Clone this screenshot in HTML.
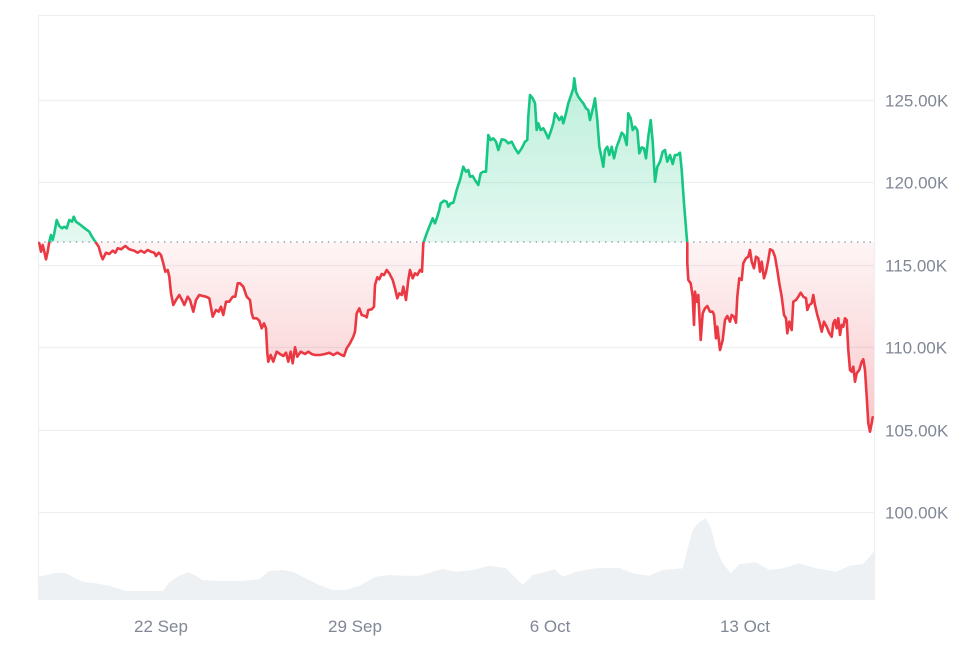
<!DOCTYPE html>
<html><head><meta charset="utf-8"><style>
html,body{margin:0;padding:0;background:#fff;}
svg{display:block;}
text{font-family:"Liberation Sans",Arial,sans-serif;font-size:17px;fill:#808795;}
</style></head><body>
<svg width="980" height="653" viewBox="0 0 980 653" xmlns="http://www.w3.org/2000/svg" xmlns:xlink="http://www.w3.org/1999/xlink">
<defs>
<linearGradient id="gg" gradientUnits="userSpaceOnUse" x1="0" y1="78" x2="0" y2="242">
<stop offset="0" stop-color="#16c784" stop-opacity="0.28"/>
<stop offset="1" stop-color="#16c784" stop-opacity="0.12"/>
</linearGradient>
<linearGradient id="rg" gradientUnits="userSpaceOnUse" x1="0" y1="242" x2="0" y2="432">
<stop offset="0" stop-color="#ea3943" stop-opacity="0.05"/>
<stop offset="1" stop-color="#ea3943" stop-opacity="0.28"/>
</linearGradient>
<clipPath id="cu"><rect x="0" y="0" width="980" height="242"/></clipPath>
<clipPath id="cd"><rect x="0" y="242" width="980" height="411"/></clipPath>
<path id="ar" d="M39.3,242 L39.3,243.3 L41,251.7 L42.7,245 L44.3,251.7 L46,259.3 L47.7,251.7 L49.3,241.7 L51,235 L52.7,240 L54.3,233.3 L56.7,220 L59.3,226 L62,228.3 L64.3,226.7 L66.7,228.3 L69.3,220 L72,221.7 L73.7,216.7 L76,221.7 L79.3,224 L82.7,226.7 L86,229.3 L89.3,231.7 L92,236.7 L95.3,241.7 L98.7,246.7 L101,255 L102.7,259.3 L106,252.7 L109.3,254 L112.7,250.7 L115.3,252.7 L117.7,248.3 L121,249.3 L125.3,246 L129.3,249.3 L134.3,250.7 L137.7,252.7 L141,250.7 L144.3,252.7 L147.7,250 L151,251.7 L154.3,252.7 L156,256 L158.7,252.7 L161,255 L163.3,263.3 L165.3,271.7 L167.7,270 L169.3,276.7 L171,293.3 L173.3,305 L176,300 L179.3,295 L182,300 L184.3,305 L187.7,296.7 L190,300 L193.3,311.7 L196,300 L199.3,295 L202.7,296 L206,296.7 L209.3,298.3 L212.7,316.7 L216,310 L218.7,311.7 L221,306.7 L223.3,315 L226,301.7 L229.3,301.7 L232.7,296.7 L235.3,296.7 L237.7,283.3 L240,283.3 L243.3,286.7 L246.7,296.7 L250,300 L251.7,313.3 L253.3,318.3 L256.7,318.3 L259.3,320.7 L261.7,328.3 L264,323.3 L266,328.3 L267.3,353.3 L268.3,361.7 L270.7,355 L273.3,361.7 L276.7,351.7 L280,354 L283.3,356 L286,352.7 L288.3,361.7 L290.7,351.7 L292.7,363.3 L295,347.3 L297.3,356.7 L300.7,351.7 L305,354 L308.3,351.7 L311.7,354 L315,355 L320,355 L325,354 L329.3,352.7 L333.3,355 L337.3,352.7 L341.7,355 L344,356 L346.7,348.3 L350,343.3 L353.3,336.7 L355,331.7 L356.7,313.3 L359.3,308.3 L361.7,315 L365,316 L366.7,317.3 L368.3,310 L371.7,309.3 L374,306.7 L375,285 L377.3,277.3 L379.3,279.3 L381.7,274 L384,275 L386.7,270 L389.3,273.3 L392.7,280 L395,288.3 L397.3,298.3 L399.3,293.3 L401.7,295 L403.3,286.7 L406,300 L408.3,280 L410,270 L412.7,278.3 L415,273.3 L417.3,275 L420,270 L422,271.7 L423.3,243.3 L426.7,233.3 L429.3,226.7 L432.7,218.3 L435,223.3 L437.3,216.7 L439.3,210 L440.7,203.3 L444,200.7 L446.7,201.7 L448.3,206.7 L450.7,203.3 L453.3,202.7 L455,196.7 L456.7,190 L458.3,185 L460,180 L461.7,173.3 L463.3,166.7 L466,171.7 L468.3,170 L470,176.7 L472.7,176 L475,180 L478.3,185 L480.7,173.3 L483.3,171.7 L486,171.7 L486.7,160 L488.3,135 L490.7,140 L493.3,138.3 L496,141.7 L498.3,150 L501.7,139.3 L505,140 L508.3,143.3 L511.7,141.7 L515,148.3 L518.3,153.3 L521.7,148.3 L525,141.7 L527.3,140 L528.3,116.7 L530,95 L532.7,98.3 L535,103.3 L536.7,130 L538.3,123.3 L540.7,130 L543.3,128.3 L546,133.3 L548.3,138.3 L550.7,131.7 L553.3,123.3 L555,113.3 L557.3,116.7 L559.3,120 L561.7,116.7 L563.3,123.3 L566,113.3 L568.3,103.3 L570,98.3 L571.7,93.3 L573.3,88.3 L574.3,78.3 L576,91.7 L578.3,96.7 L580.7,100 L583.3,103.3 L586,108.3 L588.3,110 L590,120 L591.7,113.3 L593.3,106.7 L595,98.3 L597.3,120 L599.3,146.7 L601.7,158.3 L603.3,166.7 L605,150 L607.3,146.7 L609.3,155 L611.7,146.7 L614,158.3 L616.7,146.7 L619.3,140 L621.7,132.7 L624,135 L626.7,145 L628.3,113.3 L630.7,118.3 L632.7,130 L635,126.7 L637.3,130 L639.3,153.3 L641.7,147.3 L644,148.3 L646,158.3 L648.3,136.7 L650.7,120 L652.7,141.7 L655,181.7 L657.3,166.7 L660,161.7 L662.7,151.7 L665,150 L667.3,161.7 L670,155 L672.7,164 L675,155 L677.3,155 L680,152.7 L681.7,170 L684,203.3 L686.7,236.7 L687.3,243.3 L687.3,263.3 L688.3,280 L690.7,283.3 L692.7,296.7 L694,325 L695,291.7 L696.7,301.7 L698.3,295 L700.7,340 L702.7,313.3 L705,308.3 L707.3,306 L710,311.7 L712.7,311.7 L714,315 L716,338.3 L717.3,326.7 L720,350 L722.7,340 L725,320 L727.3,316 L730,321.7 L731.7,315 L734,316.7 L736,322.7 L737.3,296.7 L739.3,278.3 L741.7,280 L743.3,263.3 L746,258.3 L748.3,256.7 L750,250 L751.7,261.7 L754,268.3 L756,256.7 L758.3,258.3 L760,271.7 L761.7,261.7 L764,278.3 L766,271.7 L768.3,260 L770,249.3 L772.7,250.7 L775,256.7 L777.3,270 L779.3,283.3 L781.7,296.7 L784,315 L786,318.3 L787.3,333.3 L789.3,321.7 L791.7,330 L793.3,301.7 L796,300 L798.3,296.7 L800.7,292.7 L803.3,296.7 L806,298.3 L807.3,310 L809.3,305 L811.7,303.3 L813.3,295 L815,305 L817.3,315 L819.3,321.7 L821.7,331.7 L824,321.7 L826.7,326.7 L829.3,333.3 L831.7,336.7 L833.3,323.3 L835,320 L836.7,328.3 L838.3,318.3 L840,335 L841.7,325 L843.3,326.7 L845,318.3 L846.7,320 L848.3,350 L850,370 L851.7,371.7 L853.3,366.7 L855,381.7 L856.7,373.3 L859.3,370 L861.7,361.7 L863.3,359.3 L865,370 L866.7,396.7 L868.3,423.3 L870,431.7 L871.7,423.3 L872.7,417.3 L874,417.3 L874,242 Z"/>
<path id="pl" d="M39.3,243.3 L41,251.7 L42.7,245 L44.3,251.7 L46,259.3 L47.7,251.7 L49.3,241.7 L51,235 L52.7,240 L54.3,233.3 L56.7,220 L59.3,226 L62,228.3 L64.3,226.7 L66.7,228.3 L69.3,220 L72,221.7 L73.7,216.7 L76,221.7 L79.3,224 L82.7,226.7 L86,229.3 L89.3,231.7 L92,236.7 L95.3,241.7 L98.7,246.7 L101,255 L102.7,259.3 L106,252.7 L109.3,254 L112.7,250.7 L115.3,252.7 L117.7,248.3 L121,249.3 L125.3,246 L129.3,249.3 L134.3,250.7 L137.7,252.7 L141,250.7 L144.3,252.7 L147.7,250 L151,251.7 L154.3,252.7 L156,256 L158.7,252.7 L161,255 L163.3,263.3 L165.3,271.7 L167.7,270 L169.3,276.7 L171,293.3 L173.3,305 L176,300 L179.3,295 L182,300 L184.3,305 L187.7,296.7 L190,300 L193.3,311.7 L196,300 L199.3,295 L202.7,296 L206,296.7 L209.3,298.3 L212.7,316.7 L216,310 L218.7,311.7 L221,306.7 L223.3,315 L226,301.7 L229.3,301.7 L232.7,296.7 L235.3,296.7 L237.7,283.3 L240,283.3 L243.3,286.7 L246.7,296.7 L250,300 L251.7,313.3 L253.3,318.3 L256.7,318.3 L259.3,320.7 L261.7,328.3 L264,323.3 L266,328.3 L267.3,353.3 L268.3,361.7 L270.7,355 L273.3,361.7 L276.7,351.7 L280,354 L283.3,356 L286,352.7 L288.3,361.7 L290.7,351.7 L292.7,363.3 L295,347.3 L297.3,356.7 L300.7,351.7 L305,354 L308.3,351.7 L311.7,354 L315,355 L320,355 L325,354 L329.3,352.7 L333.3,355 L337.3,352.7 L341.7,355 L344,356 L346.7,348.3 L350,343.3 L353.3,336.7 L355,331.7 L356.7,313.3 L359.3,308.3 L361.7,315 L365,316 L366.7,317.3 L368.3,310 L371.7,309.3 L374,306.7 L375,285 L377.3,277.3 L379.3,279.3 L381.7,274 L384,275 L386.7,270 L389.3,273.3 L392.7,280 L395,288.3 L397.3,298.3 L399.3,293.3 L401.7,295 L403.3,286.7 L406,300 L408.3,280 L410,270 L412.7,278.3 L415,273.3 L417.3,275 L420,270 L422,271.7 L423.3,243.3 L426.7,233.3 L429.3,226.7 L432.7,218.3 L435,223.3 L437.3,216.7 L439.3,210 L440.7,203.3 L444,200.7 L446.7,201.7 L448.3,206.7 L450.7,203.3 L453.3,202.7 L455,196.7 L456.7,190 L458.3,185 L460,180 L461.7,173.3 L463.3,166.7 L466,171.7 L468.3,170 L470,176.7 L472.7,176 L475,180 L478.3,185 L480.7,173.3 L483.3,171.7 L486,171.7 L486.7,160 L488.3,135 L490.7,140 L493.3,138.3 L496,141.7 L498.3,150 L501.7,139.3 L505,140 L508.3,143.3 L511.7,141.7 L515,148.3 L518.3,153.3 L521.7,148.3 L525,141.7 L527.3,140 L528.3,116.7 L530,95 L532.7,98.3 L535,103.3 L536.7,130 L538.3,123.3 L540.7,130 L543.3,128.3 L546,133.3 L548.3,138.3 L550.7,131.7 L553.3,123.3 L555,113.3 L557.3,116.7 L559.3,120 L561.7,116.7 L563.3,123.3 L566,113.3 L568.3,103.3 L570,98.3 L571.7,93.3 L573.3,88.3 L574.3,78.3 L576,91.7 L578.3,96.7 L580.7,100 L583.3,103.3 L586,108.3 L588.3,110 L590,120 L591.7,113.3 L593.3,106.7 L595,98.3 L597.3,120 L599.3,146.7 L601.7,158.3 L603.3,166.7 L605,150 L607.3,146.7 L609.3,155 L611.7,146.7 L614,158.3 L616.7,146.7 L619.3,140 L621.7,132.7 L624,135 L626.7,145 L628.3,113.3 L630.7,118.3 L632.7,130 L635,126.7 L637.3,130 L639.3,153.3 L641.7,147.3 L644,148.3 L646,158.3 L648.3,136.7 L650.7,120 L652.7,141.7 L655,181.7 L657.3,166.7 L660,161.7 L662.7,151.7 L665,150 L667.3,161.7 L670,155 L672.7,164 L675,155 L677.3,155 L680,152.7 L681.7,170 L684,203.3 L686.7,236.7 L687.3,243.3 L687.3,263.3 L688.3,280 L690.7,283.3 L692.7,296.7 L694,325 L695,291.7 L696.7,301.7 L698.3,295 L700.7,340 L702.7,313.3 L705,308.3 L707.3,306 L710,311.7 L712.7,311.7 L714,315 L716,338.3 L717.3,326.7 L720,350 L722.7,340 L725,320 L727.3,316 L730,321.7 L731.7,315 L734,316.7 L736,322.7 L737.3,296.7 L739.3,278.3 L741.7,280 L743.3,263.3 L746,258.3 L748.3,256.7 L750,250 L751.7,261.7 L754,268.3 L756,256.7 L758.3,258.3 L760,271.7 L761.7,261.7 L764,278.3 L766,271.7 L768.3,260 L770,249.3 L772.7,250.7 L775,256.7 L777.3,270 L779.3,283.3 L781.7,296.7 L784,315 L786,318.3 L787.3,333.3 L789.3,321.7 L791.7,330 L793.3,301.7 L796,300 L798.3,296.7 L800.7,292.7 L803.3,296.7 L806,298.3 L807.3,310 L809.3,305 L811.7,303.3 L813.3,295 L815,305 L817.3,315 L819.3,321.7 L821.7,331.7 L824,321.7 L826.7,326.7 L829.3,333.3 L831.7,336.7 L833.3,323.3 L835,320 L836.7,328.3 L838.3,318.3 L840,335 L841.7,325 L843.3,326.7 L845,318.3 L846.7,320 L848.3,350 L850,370 L851.7,371.7 L853.3,366.7 L855,381.7 L856.7,373.3 L859.3,370 L861.7,361.7 L863.3,359.3 L865,370 L866.7,396.7 L868.3,423.3 L870,431.7 L871.7,423.3 L872.7,417.3"/>
</defs>

<!-- borders & grid -->
<g stroke="#edf0f3" stroke-width="1.2" fill="none">
<line x1="38" y1="15.5" x2="874" y2="15.5"/>
<line x1="38.5" y1="15" x2="38.5" y2="600"/>
<line x1="874.5" y1="15" x2="874.5" y2="600"/>
<line x1="38" y1="100.5" x2="874" y2="100.5"/>
<line x1="38" y1="182.5" x2="874" y2="182.5"/>
<line x1="38" y1="265.5" x2="874" y2="265.5"/>
<line x1="38" y1="347.5" x2="874" y2="347.5"/>
<line x1="38" y1="430.5" x2="874" y2="430.5"/>
<line x1="38" y1="512.5" x2="874" y2="512.5"/>
</g>

<!-- volume -->
<path fill="#eef1f4" d="M38,600 L38,577 L46,575 L56,572.7 L66,573.3 L72.7,576.7 L82.7,581.7 L96,583.3 L109.3,585.7 L126,591 L146,591 L162.7,591 L169.3,582.3 L179.3,575.7 L187.7,572.3 L196,575.7 L202.7,580 L219.3,581 L242.7,581 L259.3,579 L269.3,571 L282.7,570 L292.7,571.7 L302.7,576.7 L319.3,585 L332.7,590 L346,590 L359.3,585.7 L376,576.7 L389.3,575 L402.7,575.7 L419.3,575.7 L432.7,571.7 L442.7,569 L456,571.7 L472.7,570 L489.3,565.7 L506,568.3 L514.3,576.7 L522.7,585 L532.7,575 L546,571.7 L554.3,569 L562.7,576.7 L576,571.7 L596,568.3 L619.3,567.7 L632.7,573.3 L649.3,575.7 L662.7,570 L682.7,568.3 L687.7,548.3 L692.7,530 L699.3,521.7 L706,518.3 L711,528.3 L716,548.3 L722.7,563.3 L731,573.3 L739.3,564.3 L756,562.3 L769.3,570 L782.7,568.3 L799.3,563.3 L816,568.3 L836,571.7 L849.3,565.7 L862.7,564.3 L872.7,553.3 L874,550 L874,600 Z"/>

<!-- price areas -->
<use xlink:href="#ar" href="#ar" fill="url(#gg)" clip-path="url(#cu)"/>
<use xlink:href="#ar" href="#ar" fill="url(#rg)" clip-path="url(#cd)"/>

<!-- dotted baseline -->
<line x1="38" y1="242" x2="874" y2="242" stroke="#9aa1ab" stroke-width="1.4" stroke-dasharray="1.4 4.9"/>

<!-- price line -->
<g fill="none" stroke-width="2.6" stroke-linejoin="round" stroke-linecap="round">
<use xlink:href="#pl" href="#pl" stroke="#16c784" clip-path="url(#cu)"/>
<use xlink:href="#pl" href="#pl" stroke="#ea3943" clip-path="url(#cd)"/>
</g>

<!-- y labels -->
<text x="885" y="106.5">125.00K</text>
<text x="885" y="188.5">120.00K</text>
<text x="885" y="271.5">115.00K</text>
<text x="885" y="353.5">110.00K</text>
<text x="885" y="436.5">105.00K</text>
<text x="885" y="518.5">100.00K</text>

<!-- x labels -->
<text x="161" y="632" text-anchor="middle">22 Sep</text>
<text x="355" y="632" text-anchor="middle">29 Sep</text>
<text x="550" y="632" text-anchor="middle">6 Oct</text>
<text x="745" y="632" text-anchor="middle">13 Oct</text>
</svg>
</body></html>
